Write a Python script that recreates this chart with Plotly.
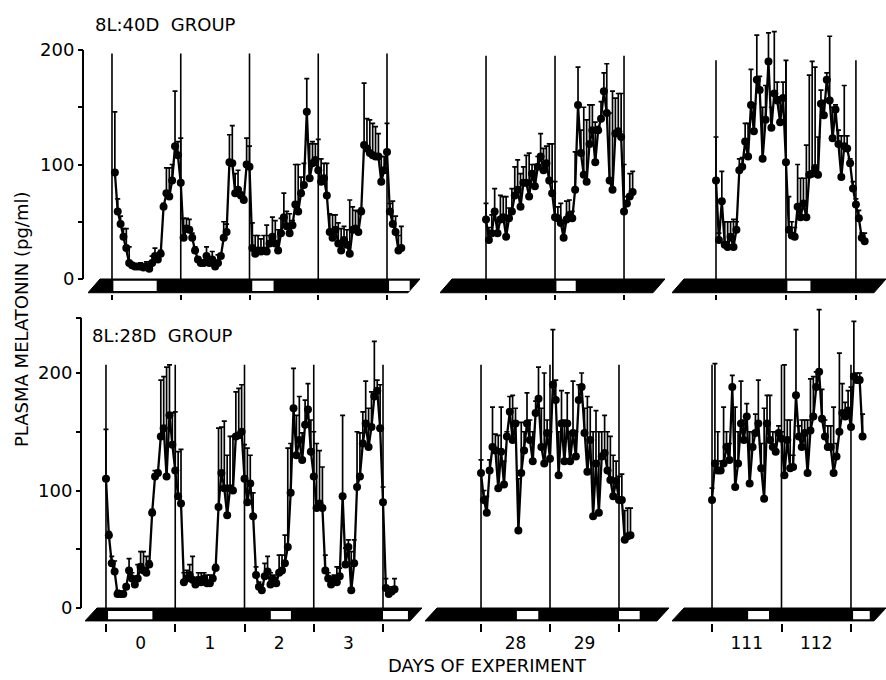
import plotly.graph_objects as go

W, H = 886, 680

# ---------------- 8L:40D group : hourly means and upper SEM limits (pg/ml) ----------------
L40_d0_mean = [93, 59, 48, 37, 27, 14, 12, 11, 11, 11, 10, 11, 9, 14, 20, 17, 22, 63, 75, 72, 86, 116, 108, 84]
L40_d0_top = [146, 70, 55, 44, 44, 28, 14, 13, 13, 14, 13, 15, 11, 20, 27, 22, 25, 66, 97, 97, 100, 164, 120, 123]
L40_d1_mean = [36, 44, 43, 36, 25, 17, 14, 14, 20, 14, 17, 11, 14, 20, 36, 41, 102, 101, 75, 78, 73, 69, 100, 98]
L40_d1_top = [53, 53, 52, 40, 28, 19, 16, 16, 28, 16, 24, 14, 21, 22, 50, 48, 126, 134, 92, 95, 76, 72, 123, 116]
L40_d2_mean = [27, 22, 25, 24, 25, 24, 31, 37, 31, 25, 40, 54, 46, 40, 47, 65, 59, 75, 82, 146, 88, 101, 104, 95]
L40_d2_top = [49, 38, 38, 35, 38, 47, 38, 54, 51, 43, 53, 75, 59, 57, 51, 100, 100, 89, 101, 175, 118, 120, 118, 122]
L40_d3_mean = [85, 88, 73, 41, 36, 43, 31, 25, 34, 30, 22, 43, 44, 41, 59, 117, 114, 110, 108, 107, 107, 85, 95, 111]
L40_d3_top = [105, 101, 101, 57, 56, 56, 49, 44, 46, 43, 69, 63, 60, 59, 62, 171, 140, 139, 136, 133, 127, 107, 107, 136]
L40_d4_mean = [59, 48, 41, 25, 27]
L40_d4_top = [66, 68, 55, 38, 46]

L40_d28_mean = [52, 34, 40, 59, 40, 52, 54, 37, 53, 59, 73, 78, 63, 84, 84, 72, 92, 81, 98, 107, 95, 101, 86, 75]
L40_d28_top = [66, 45, 56, 79, 50, 73, 72, 72, 62, 79, 98, 104, 92, 98, 108, 110, 100, 100, 107, 127, 114, 116, 118, 118]
L40_d29_mean = [54, 53, 49, 36, 52, 56, 53, 78, 152, 110, 91, 85, 118, 130, 102, 130, 140, 164, 145, 86, 78, 127, 129, 124]
L40_d29_top = [85, 63, 66, 49, 68, 69, 59, 111, 185, 130, 150, 139, 152, 152, 137, 133, 155, 180, 188, 145, 164, 158, 162, 162]
L40_d30_mean = [59, 66, 72, 76]
L40_d30_top = [100, 72, 92, 94]

L40_d111_mean = [86, 34, 68, 30, 28, 37, 28, 43, 95, 98, 120, 107, 152, 129, 174, 165, 105, 139, 190, 132, 162, 156, 137, 158]
L40_d111_top = [124, 40, 94, 50, 50, 50, 52, 50, 105, 106, 136, 136, 183, 153, 213, 177, 150, 169, 215, 150, 216, 172, 159, 172]
L40_d112_mean = [102, 43, 38, 37, 63, 54, 66, 54, 91, 92, 97, 91, 153, 143, 174, 156, 123, 148, 118, 89, 116, 114, 101, 79]
L40_d112_top = [191, 72, 50, 45, 100, 88, 88, 117, 178, 190, 185, 124, 165, 156, 180, 212, 150, 152, 130, 125, 169, 125, 105, 85]
L40_d113_mean = [65, 53, 36, 33]
L40_d113_top = [70, 60, 40, 40]

# ---------------- 8L:28D group ----------------
L28_d0_mean = [110, 62, 38, 31, 12, 12, 12, 18, 32, 25, 20, 25, 35, 32, 30, 37, 81, 112, 115, 146, 153, 112, 164, 139]
L28_d0_top = [152, 65, 44, 40, 15, 14, 14, 20, 42, 30, 24, 37, 48, 48, 44, 40, 84, 117, 117, 194, 197, 205, 207, 166]
L28_d1_mean = [117, 95, 89, 22, 25, 28, 24, 20, 24, 22, 25, 21, 21, 25, 34, 86, 115, 102, 79, 102, 100, 146, 147, 150]
L28_d1_top = [167, 133, 135, 30, 32, 37, 44, 22, 30, 30, 30, 28, 28, 27, 37, 153, 154, 159, 130, 146, 146, 184, 187, 190]
L28_d2_mean = [110, 90, 106, 78, 28, 18, 15, 27, 31, 20, 24, 21, 30, 32, 38, 52, 98, 170, 130, 143, 126, 156, 169, 133]
L28_d2_top = [139, 136, 130, 98, 35, 22, 20, 38, 44, 30, 28, 26, 45, 45, 62, 136, 140, 204, 164, 180, 149, 177, 191, 160]
L28_d3_mean = [112, 85, 89, 85, 32, 25, 20, 24, 22, 27, 95, 37, 52, 15, 38, 103, 112, 140, 157, 137, 154, 180, 185, 153]
L28_d3_top = [150, 140, 134, 120, 45, 30, 25, 28, 35, 34, 164, 51, 58, 48, 58, 150, 149, 167, 193, 170, 184, 227, 194, 190]
L28_d4_mean = [90, 17, 12, 14, 16]
L28_d4_top = [103, 25, 16, 18, 25]

L28_d28_mean = [115, 92, 81, 117, 137, 134, 102, 133, 105, 146, 167, 143, 157, 66, 115, 134, 157, 143, 125, 166, 178, 137, 123, 149]
L28_d28_top = [126, 100, 95, 126, 171, 148, 147, 171, 125, 150, 180, 181, 170, 110, 158, 150, 183, 160, 150, 176, 205, 170, 200, 160]
L28_d29_mean = [127, 190, 177, 113, 157, 125, 157, 125, 149, 129, 177, 188, 149, 116, 143, 78, 123, 81, 129, 132, 117, 109, 95, 108]
L28_d29_top = [150, 237, 194, 150, 185, 160, 183, 150, 193, 150, 190, 200, 170, 180, 171, 150, 168, 150, 150, 164, 150, 146, 130, 125]
L28_d30_mean = [92, 92, 58, 61, 62]
L28_d30_top = [112, 114, 83, 85, 85]

L28_d111_mean = [92, 123, 117, 117, 123, 137, 126, 188, 103, 123, 157, 143, 163, 106, 137, 149, 157, 119, 93, 157, 143, 137, 133, 149]
L28_d111_top = [102, 208, 150, 125, 171, 150, 140, 198, 171, 150, 193, 160, 174, 150, 150, 165, 194, 140, 170, 181, 181, 150, 150, 155]
L28_d112_mean = [144, 113, 143, 119, 120, 181, 146, 137, 149, 115, 151, 163, 188, 201, 161, 146, 137, 137, 115, 129, 150, 166, 163, 168]
L28_d112_top = [150, 207, 160, 160, 130, 237, 155, 160, 160, 160, 195, 197, 201, 254, 186, 160, 155, 155, 171, 140, 217, 191, 175, 185]
L28_d113_mean = [154, 197, 194, 194, 146]
L28_d113_top = [188, 244, 200, 200, 165]

# first sampling hour of each panel (hours after start of first day)
L40_first_hour = [1, 0, 0]
L28_first_hour = [0, 0, 0]

# day boundaries (vertical lines) and day labels
PANEL_DAYS = [[0, 1, 2, 3, 4], [28, 29, 30], [111, 112, 113]]
DAY_LABELS = [["0", "1", "2", "3"], ["28", "29"], ["111", "112"]]

# light periods (white bars), in days
L40_LIGHT = [[(0.02, 0.65), (2.04, 2.35), (4.03, 4.33)], [(29.02, 29.30)], [(112.02, 112.35)]]
L28_LIGHT = [[(0.03, 0.67), (2.38, 2.67), (4.00, 4.36)], [(28.52, 28.83), (30.00, 30.30)],
             [(111.52, 111.82), (113.03, 113.27)]]

# ---------------- layout geometry (pixels) ----------------
ROWS = [
    dict(name="L40", y0px=279, ppu=1.145, yr=(-13, 230), axis_top=200, line_h=[197, 195, 191],
         xpx=[(88, 420), (440, 665), (672, 886)],
         xr=[(-0.349, 4.48), (27.333, 30.594), (110.371, 113.43)], yaxis_x=83,
         bar=(-12, -1.5, -10.5)),
    dict(name="L28", y0px=608, ppu=1.175, yr=(-13, 262), axis_top=247, line_h=[207, 207, 207],
         xpx=[(85, 422), (425, 669), (672, 886)],
         xr=[(-0.303, 4.563), (27.188, 30.725), (110.424, 113.504)], yaxis_x=81,
         bar=(-11, -2.5, -9.5)),
]

L40_panels = [
    [(L40_d0_mean, L40_d0_top), (L40_d1_mean, L40_d1_top), (L40_d2_mean, L40_d2_top),
     (L40_d3_mean, L40_d3_top), (L40_d4_mean, L40_d4_top)],
    [(L40_d28_mean, L40_d28_top), (L40_d29_mean, L40_d29_top), (L40_d30_mean, L40_d30_top)],
    [(L40_d111_mean, L40_d111_top), (L40_d112_mean, L40_d112_top), (L40_d113_mean, L40_d113_top)],
]
L28_panels = [
    [(L28_d0_mean, L28_d0_top), (L28_d1_mean, L28_d1_top), (L28_d2_mean, L28_d2_top),
     (L28_d3_mean, L28_d3_top), (L28_d4_mean, L28_d4_top)],
    [(L28_d28_mean, L28_d28_top), (L28_d29_mean, L28_d29_top), (L28_d30_mean, L28_d30_top)],
    [(L28_d111_mean, L28_d111_top), (L28_d112_mean, L28_d112_top), (L28_d113_mean, L28_d113_top)],
]

FONT = "DejaVu Sans"
fig = go.Figure()
shapes = []
layout = {}

for r, row in enumerate(ROWS):
    panels = L40_panels if r == 0 else L28_panels
    first_hours = L40_first_hour if r == 0 else L28_first_hour
    lights = L40_LIGHT if r == 0 else L28_LIGHT
    yname = "yaxis" if r == 0 else "yaxis2"
    yref = "y" if r == 0 else "y2"
    lo, hi = row["yr"]
    ybot_px = row["y0px"] - lo * row["ppu"]
    ytop_px = row["y0px"] - hi * row["ppu"]
    ydom = [1 - ybot_px / H, 1 - ytop_px / H]
    layout[yname] = dict(
        domain=ydom, range=[lo, hi], anchor="free", position=row["yaxis_x"] / W,
        showgrid=False, zeroline=False, showline=False, automargin=False,
        tickmode="array", tickvals=[0, 50, 100, 150, 200, row["axis_top"]],
        ticktext=["0", "", "100", "", "200", ""],
        ticks="outside", ticklen=5, tickwidth=1.8, tickcolor="black",
        tickfont=dict(family=FONT, size=18, color="black"),
    )
    # y axis line
    shapes.append(dict(type="line", xref="paper", yref=yref, x0=row["yaxis_x"] / W, x1=row["yaxis_x"] / W,
                       y0=0, y1=row["axis_top"], line=dict(color="black", width=2)))
    for p in range(3):
        k = r * 3 + p + 1
        xname = "xaxis" if k == 1 else f"xaxis{k}"
        xref = "x" if k == 1 else f"x{k}"
        px0, px1 = row["xpx"][p]
        xr0, xr1 = row["xr"][p]
        days = PANEL_DAYS[p]
        ax = dict(
            domain=[px0 / W, px1 / W], range=[xr0, xr1], anchor=yref,
            showgrid=False, zeroline=False, showline=False, automargin=False,
            minor=dict(tickmode="array", tickvals=days, ticks="outside",
                       ticklen=8 if r == 1 else 5, tickwidth=1.8, tickcolor="black"),
        )
        if r == 1:
            ax.update(tickmode="array", tickvals=[d + 0.5 for d in days[:len(DAY_LABELS[p])]],
                      ticktext=DAY_LABELS[p], ticks="", ticklabelstandoff=8,
                      tickfont=dict(family=FONT, size=17, color="black"))
        else:
            ax.update(showticklabels=False, ticks="", tickmode="array", tickvals=[])
        layout[xname] = ax

        # data
        xs, ys, es = [], [], []
        h = first_hours[p]
        for mean, top in panels[p]:
            for v, t in zip(mean, top):
                xs.append(days[0] + h / 24.0)
                ys.append(v)
                es.append(max(t - v, 0))
                h += 1
        fig.add_trace(go.Scatter(
            x=xs, y=ys, xaxis=xref, yaxis=yref, mode="lines+markers",
            line=dict(color="black", width=2.3),
            marker=dict(color="black", size=8),
            error_y=dict(type="data", symmetric=False, array=es, arrayminus=[0] * len(es),
                         color="black", thickness=1.7, width=2.5),
            showlegend=False, hoverinfo="skip", cliponaxis=False,
        ))

        # day boundary lines
        for d in days:
            shapes.append(dict(type="line", xref=xref, yref=yref, x0=d, x1=d, y0=0, y1=row["line_h"][p],
                               line=dict(color="black", width=1.6), layer="below"))

        # light/dark bar (parallelogram)
        bb, wt, wb = row["bar"]
        lean = 12 * (xr1 - xr0) / (px1 - px0)
        path = (f"M {xr0},{bb} L {xr0 + lean},0 L {xr1},0 L {xr1 - lean},{bb} Z")
        shapes.append(dict(type="path", xref=xref, yref=yref, path=path,
                           fillcolor="black", line=dict(color="black", width=1)))
        for a, b in lights[p]:
            shapes.append(dict(type="rect", xref=xref, yref=yref, x0=a, x1=b, y0=wb, y1=wt,
                               fillcolor="white", line=dict(color="white", width=0)))

annotations = [
    dict(text="8L:40D\u00a0\u00a0GROUP", x=93 / W, y=1 - 25 / H, xref="paper", yref="paper",
         xanchor="left", yanchor="middle", showarrow=False,
         font=dict(family=FONT, size=18, color="black")),
    dict(text="8L:28D\u00a0\u00a0GROUP", x=90 / W, y=1 - 335 / H, xref="paper", yref="paper",
         xanchor="left", yanchor="middle", showarrow=False,
         font=dict(family=FONT, size=18, color="black")),
    dict(text="PLASMA MELATONIN (pg/ml)", x=21 / W, y=1 - 320 / H, xref="paper", yref="paper",
         xanchor="center", yanchor="middle", textangle=-90, showarrow=False,
         font=dict(family=FONT, size=18, color="black")),
    dict(text="DAYS OF EXPERIMENT", x=487 / W, y=1 - 665 / H, xref="paper", yref="paper",
         xanchor="center", yanchor="middle", showarrow=False,
         font=dict(family=FONT, size=18, color="black")),
]

fig.update_layout(
    width=W, height=H, margin=dict(l=0, r=0, t=0, b=0),
    paper_bgcolor="white", plot_bgcolor="white",
    shapes=shapes, annotations=annotations, showlegend=False,
    **layout,
)

fig.write_html("out.html", config={"displayModeBar": False},
               post_script="document.body.style.margin='0px';document.body.style.overflow='hidden';")
